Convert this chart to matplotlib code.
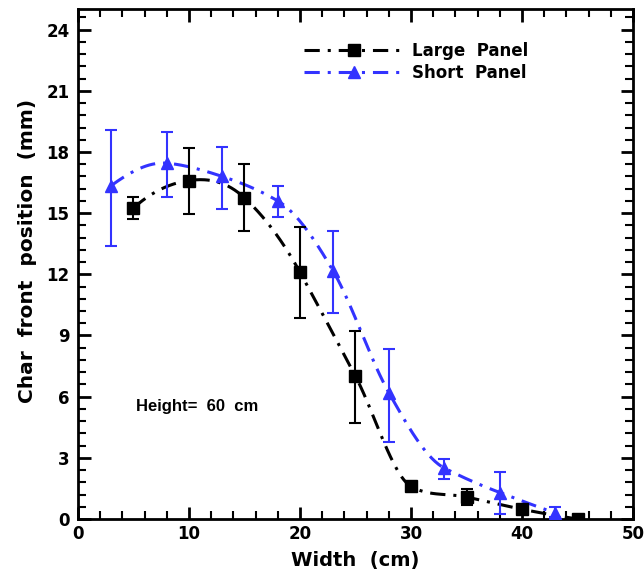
import numpy as np
import matplotlib
matplotlib.use("Agg")
import matplotlib.pyplot as plt
from matplotlib.ticker import MultipleLocator

plt.rcParams['font.family'] = ['DejaVu Sans']
plt.rcParams['font.weight'] = 'bold'

# Data
large_x = [5, 10, 15, 20, 25, 30, 35, 40, 45]
large_y = [15.25, 16.6, 15.75, 12.1, 7.0, 1.6, 1.08, 0.48, 0.0]
large_lo = [14.7, 14.95, 14.1, 9.85, 4.7, 1.4, 0.7, 0.3, 0.0]
large_hi = [15.8, 18.2, 17.4, 14.3, 9.2, 1.8, 1.47, 0.65, 0.0]

short_x = [3, 8, 13, 18, 23, 28, 33, 38, 43]
short_y = [16.35, 17.45, 16.8, 15.6, 12.15, 6.2, 2.5, 1.3, 0.3]
short_lo = [13.4, 15.8, 15.2, 14.8, 10.1, 3.8, 1.96, 0.25, 0.1]
short_hi = [19.1, 19.0, 18.25, 16.35, 14.1, 8.35, 2.94, 2.3, 0.57]


def akima_curve(x, y, n=400):
    x = np.asarray(x, float)
    y = np.asarray(y, float)
    m = np.diff(y) / np.diff(x)
    mm = np.concatenate([[3 * m[0] - 2 * m[1], 2 * m[0] - m[1]], m,
                         [2 * m[-1] - m[-2], 3 * m[-1] - 2 * m[-2]]])
    t = np.empty(len(x))
    for i in range(len(x)):
        m1, m2, m3, m4 = mm[i], mm[i + 1], mm[i + 2], mm[i + 3]
        w1 = abs(m4 - m3)
        w2 = abs(m2 - m1)
        if w1 + w2 < 1e-12:
            t[i] = 0.5 * (m2 + m3)
        else:
            t[i] = (w1 * m2 + w2 * m3) / (w1 + w2)
    xs = np.linspace(x[0], x[-1], n)
    ys = np.empty_like(xs)
    for k, xv in enumerate(xs):
        i = min(np.searchsorted(x, xv, side='right') - 1, len(x) - 2)
        h = x[i + 1] - x[i]
        s = (xv - x[i]) / h
        h00 = 2 * s**3 - 3 * s**2 + 1
        h10 = s**3 - 2 * s**2 + s
        h01 = -2 * s**3 + 3 * s**2
        h11 = s**3 - s**2
        ys[k] = h00 * y[i] + h10 * h * t[i] + h01 * y[i + 1] + h11 * h * t[i + 1]
    return xs, ys


fig = plt.figure(figsize=(6.44, 5.77), dpi=100)
ax = fig.add_axes([0.121, 0.1005, 0.862, 0.8835])

blue = '#3333ff'
dash = (0, (5, 2.6, 1, 2.6))
lw = 2.2

lx, ly = akima_curve(large_x, large_y)
sx, sy = akima_curve(short_x, short_y)

ax.plot(lx, ly, color='black', lw=lw, linestyle=dash, zorder=2)
ax.plot(sx, sy, color=blue, lw=lw, linestyle=dash, zorder=2)

ly_arr = np.array(large_y)
sy_arr = np.array(short_y)
ax.errorbar(large_x, large_y,
            yerr=[ly_arr - np.array(large_lo), np.array(large_hi) - ly_arr],
            fmt='none', ecolor='black', elinewidth=1.5, capsize=4.5, capthick=1.5, zorder=3)
ax.errorbar(short_x, short_y,
            yerr=[sy_arr - np.array(short_lo), np.array(short_hi) - sy_arr],
            fmt='none', ecolor=blue, elinewidth=1.5, capsize=4.5, capthick=1.5, zorder=3)
ax.plot(large_x, large_y, 's', color='black', ms=8, zorder=4)
ax.plot(short_x, short_y, '^', color=blue, ms=9, zorder=4)

# legend proxies
h1, = ax.plot([], [], color='black', lw=lw, linestyle=dash, marker='s', ms=8)
h2, = ax.plot([], [], color=blue, lw=lw, linestyle=dash, marker='^', ms=9)
ax.legend([h1, h2], ['Large  Panel', 'Short  Panel'], loc='upper left',
          bbox_to_anchor=(0.38, 0.965), frameon=False, handlelength=6.0,
          handletextpad=0.5, labelspacing=0.25,
          prop={'family': 'DejaVu Sans', 'weight': 'bold', 'size': 12})

ax.text(5.2, 5.5, 'Height=  60  cm', fontsize=12, fontweight='bold', va='center',
        family='Liberation Sans')

ax.set_xlim(0, 50)
ax.set_ylim(0, 25)
ax.xaxis.set_major_locator(MultipleLocator(10))
ax.xaxis.set_minor_locator(MultipleLocator(2))
ax.yaxis.set_minor_locator(MultipleLocator(0.6))
ax.set_yticks([0, 3, 6, 9, 12, 15, 18, 21, 24])
ax.tick_params(which='both', direction='in', top=True, right=True, width=2)
ax.tick_params(which='major', length=9, labelsize=12)
ax.tick_params(axis='x', which='major', pad=4)
ax.tick_params(axis='y', which='major', pad=6)
ax.tick_params(which='minor', length=5.5, width=1.5)
for lab in ax.get_xticklabels() + ax.get_yticklabels():
    lab.set_fontweight('bold')
for s in ax.spines.values():
    s.set_linewidth(2)

ax.set_xlabel('Width  (cm)', fontsize=14, fontweight='bold', labelpad=6)
ax.set_ylabel('Char  front  position  (mm)', fontsize=14.5, fontweight='bold')
ax.yaxis.set_label_coords(-0.074, 0.525)

fig.savefig('out.png', dpi=100)
